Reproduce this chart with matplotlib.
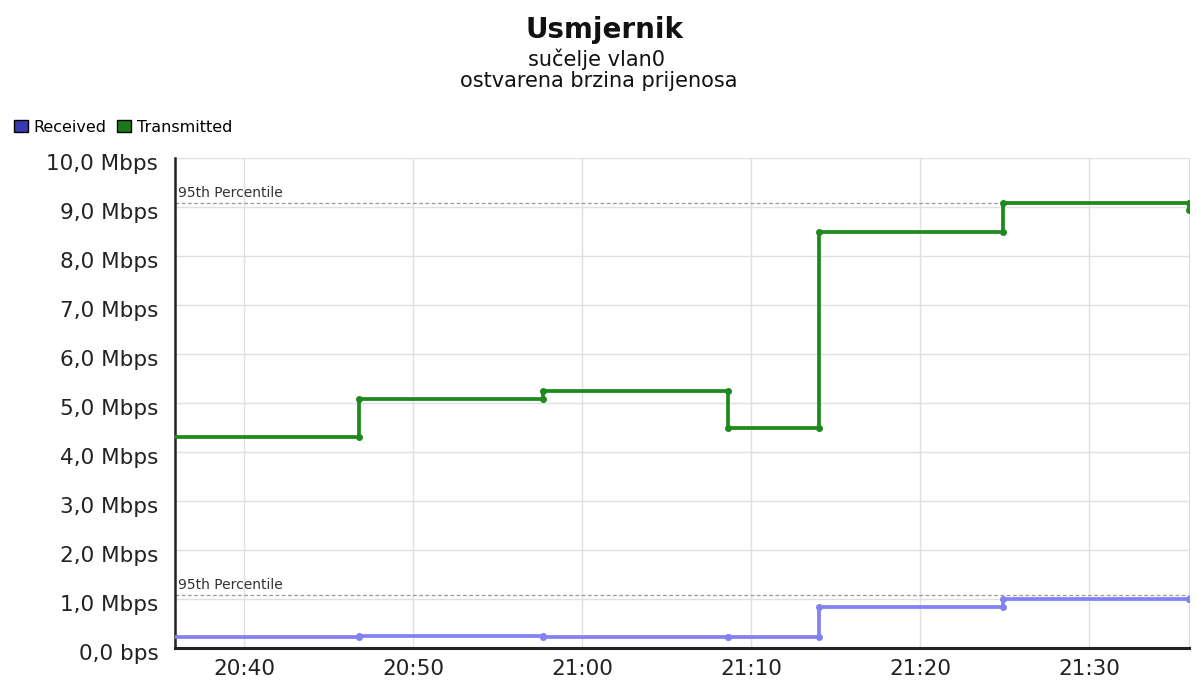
import matplotlib
matplotlib.use("Agg")
import matplotlib.pyplot as plt
import matplotlib.dates as mdates
import matplotlib.transforms as mtransforms
from matplotlib.patches import Rectangle
import pandas as pd

DAY = "2000-01-01 "

# sample boundaries (start of view, then each new sample, then end of view)
times = ["20:35:54", "20:46:48", "20:57:42", "21:08:36", "21:14:00", "21:24:54", "21:35:54"]
transmitted = [4.31, 5.08, 5.24, 4.49, 8.49, 9.08, 8.94]
received = [0.22, 0.24, 0.22, 0.23, 0.84, 1.01, 1.01]
tx_p95 = 9.08
rx_p95 = 1.08

x_ticks = ["20:40", "20:50", "21:00", "21:10", "21:20", "21:30"]
y_ticks = [0, 1, 2, 3, 4, 5, 6, 7, 8, 9, 10]
y_labels = ["0,0 bps"] + [f"{v},0 Mbps" for v in y_ticks[1:]]

GREEN = "#1e8a1e"
BLUE = "#8282f2"

t = pd.to_datetime([DAY + s for s in times])

plt.rcParams['font.family'] = ['DejaVu Sans']
fig = plt.figure(figsize=(11.97, 6.82), dpi=100)
ax = fig.add_axes([175 / 1197, 34 / 682, (1189 - 175) / 1197, (648 - 158) / 682])


def draw_series(vals, color):
    ax.plot(t, vals, drawstyle="steps-post", color=color, lw=2.7, zorder=3)
    # corner markers on both ends of every step
    mx, my = [], []
    for i in range(1, len(t)):
        mx += [t[i], t[i]]
        my += [vals[i - 1], vals[i]]
    ax.plot(mx, my, ls="none", marker="o", ms=4, color=color, zorder=4)


draw_series(received, BLUE)
draw_series(transmitted, GREEN)

for p in (tx_p95, rx_p95):
    ax.axhline(p, color="#9a9a9a", lw=0.9, ls=(0, (3, 2)), zorder=2)
    ax.annotate("95th Percentile", xy=(t[0], p), xytext=(2, 2),
                textcoords="offset points", fontsize=10, color="#333333",
                va="bottom", ha="left", zorder=5)

ax.set_xlim(t[0], t[-1])
ax.set_ylim(0, 10)
ax.set_yticks(y_ticks)
ax.set_yticklabels(y_labels)
ax.set_xticks(pd.to_datetime([DAY + s for s in x_ticks]))
ax.xaxis.set_major_formatter(mdates.DateFormatter("%H:%M"))
ax.tick_params(axis="y", labelsize=15.5, length=0, colors="#222222", pad=12)
ax.tick_params(axis="x", labelsize=15.5, length=0, colors="#222222", pad=8)
# y labels sit a little below their gridlines
shift = mtransforms.ScaledTranslation(0, -4 / 100, fig.dpi_scale_trans)
for lbl in ax.get_yticklabels():
    lbl.set_transform(lbl.get_transform() + shift)
ax.grid(True, color="#e0e0e0", lw=1)
ax.spines["top"].set_visible(False)
ax.spines["right"].set_color("#dcdcdc")
ax.spines["left"].set_linewidth(1.8)
ax.spines["bottom"].set_linewidth(2.2)
ax.spines["left"].set_color("#222222")
ax.spines["bottom"].set_color("#222222")

fig.text(0.505, 1 - 30 / 682, "Usmjernik", ha="center", va="center",
         fontsize=20, fontweight="bold", color="#111111")
fig.text(0.498, 1 - 59 / 682, "sučelje vlan0", ha="center", va="center",
         fontsize=15, color="#111111")
fig.text(0.5, 1 - 81 / 682, "ostvarena brzina prijenosa", ha="center", va="center",
         fontsize=15, color="#111111")

handles = [Rectangle((0, 0), 1, 1, facecolor="#3a3ab0", edgecolor="black", lw=1),
           Rectangle((0, 0), 1, 1, facecolor="#1a7a1a", edgecolor="black", lw=1)]
fig.legend(handles, ["Received", "Transmitted"], loc="center left",
           bbox_to_anchor=(14 / 1197, 1 - 127 / 682), ncol=2, frameon=False,
           fontsize=11.5, handlelength=0.85, handleheight=0.85, handletextpad=0.35,
           columnspacing=0.7, borderaxespad=0, borderpad=0)

fig.savefig("out.png", dpi=100)
